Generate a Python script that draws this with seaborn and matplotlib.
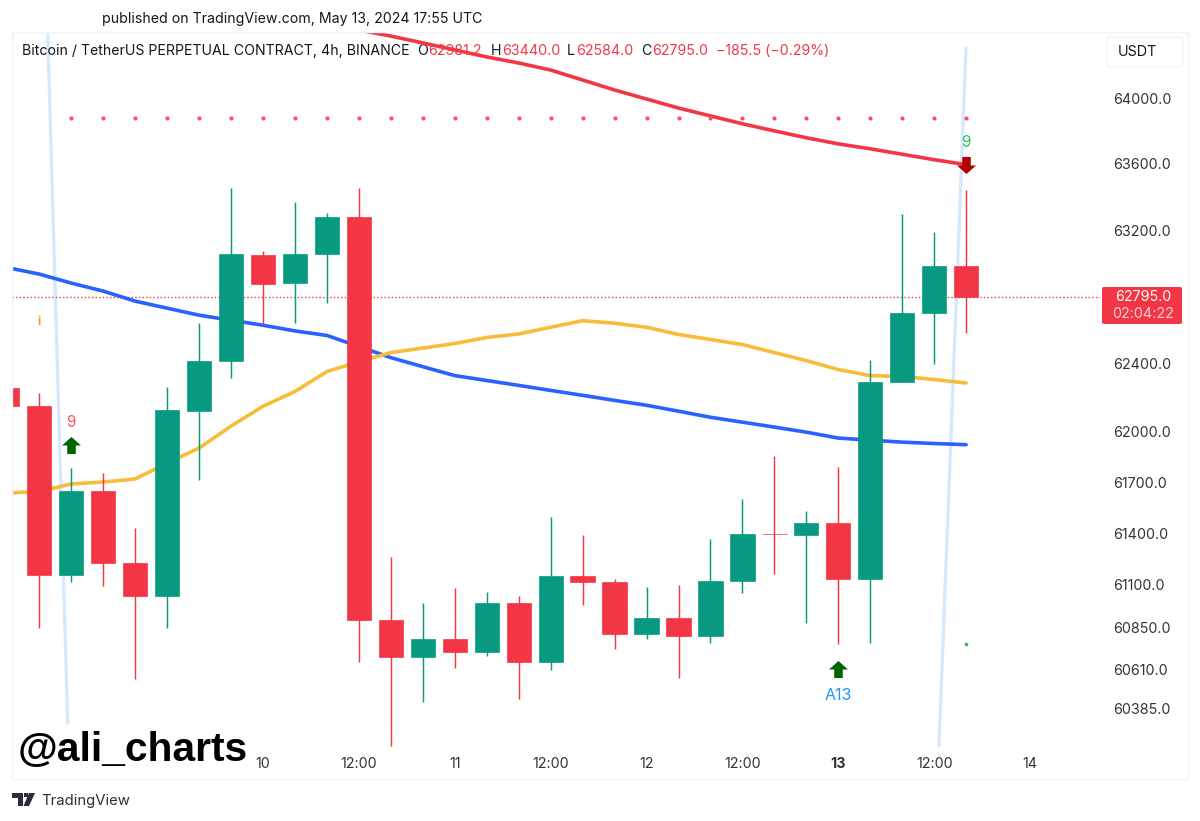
import matplotlib
matplotlib.use("Agg")
import matplotlib.pyplot as plt
import seaborn as sns
from matplotlib.patches import FancyBboxPatch, Polygon, Rectangle
from matplotlib.ticker import NullLocator
from matplotlib.transforms import Affine2D

# candles, 4h
candle_idx = list(range(31))
opens = [62253, 62147, 61156, 61647, 61223, 61034, 62121, 62418, 63050, 62881, 63056,
         63279, 60895, 60680, 60784, 60709, 60993, 60653, 61150, 61115, 60813,
         60906, 60804, 61123, 61398, 61391, 61459, 61133, 62294, 62701, 62981.2]
highs = [62253, 62224, 61783, 61753, 61429, 62259, 62641, 63454, 63074, 63369, 63303,
         63454, 61261, 60993, 61082, 61059, 61034, 61494, 61388, 61133, 61086,
         61100, 61365, 61600, 61853, 61530, 61790, 62424, 63297, 63188, 63440]
lows = [62147, 60848, 61115, 61092, 60552, 60848, 61712, 62312, 62635, 62641, 62760,
        60650, 60168, 60418, 60617, 60685, 60436, 60604, 60982, 60726, 60784,
        60559, 60760, 61053, 61161, 60877, 60755, 60760, 62294, 62400, 62584]
closes = [62147, 61156, 61647, 61223, 61034, 62124, 62418, 63056, 62878, 63056, 63279,
          60895, 60680, 60784, 60709, 60993, 60653, 61150, 61115, 60813, 60906,
          60804, 61123, 61398, 61395, 61459, 61133, 62294, 62701, 62983, 62795]

# moving averages
ema_blue = [62974, 62935, 62881, 62833, 62773, 62731, 62689, 62659, 62629, 62595, 62568,
            62502, 62436, 62382, 62329, 62300, 62271, 62241, 62212, 62182, 62153,
            62118, 62082, 62053, 62024, 61994, 61959, 61947, 61935, 61927, 61920]
ema_yellow = [61636, 61644, 61689, 61700, 61718, 61812, 61900, 62030, 62147, 62235, 62353,
              62412, 62466, 62493, 62520, 62556, 62577, 62617, 62656, 62641, 62617,
              62574, 62544, 62514, 62466, 62418, 62365, 62329, 62324, 62306, 62285]
ema_red_idx = list(range(11, 31))
ema_red = [64416, 64379, 64337, 64294, 64251, 64214, 64171, 64110, 64049, 63994,
           63939, 63891, 63843, 63800, 63758, 63721, 63691, 63658, 63625, 63595]

# markers and drawn lines
dot_idx = list(range(2, 31))
dot_levels = [63878] * 29
low_dot_idx = [30]
low_dot_level = [60755]
up_arrow_idx = [2, 26]
up_arrow_level = [61918, 60612]
down_arrow_idx = [30]
down_arrow_level = [63592]
light_line_a_idx = [1.263, 1.889]
light_line_a = [64404, 60298]
light_line_b_idx = [29.996, 29.15]
light_line_b = [64306, 60168]
last_price = 62795

y_ticks = [64000, 63600, 63200, 62400, 62000, 61700, 61400, 61100, 60850, 60610, 60385]
x_ticks = [8, 11, 14, 17, 20, 23, 26, 29, 32]
x_labels = ["10", "12:00", "11", "12:00", "12", "12:00", "13", "12:00", "14"]

GREEN = "#089981"
RED = "#f23645"
TEXT = "#131722"

sns.set_theme(style="white")
plt.rcParams["font.family"] = ["Inter", "DejaVu Sans"]

fig = plt.figure(figsize=(12, 8.21), dpi=100)
ax = fig.add_axes([12 / 1200, 1 - 748 / 821, 1088 / 1200, 716 / 821])
ax.set_yscale("log")
ax.set_facecolor("none")

# pixel coords, top-left origin, for the screenshot furniture
px = Affine2D().scale(1, -1).translate(0, 821)

# drawn trend lines sit behind everything
sns.lineplot(x=light_line_a_idx, y=light_line_a, color="#d6e8fb", lw=2.4, ax=ax, zorder=0.5,
             estimator=None, sort=False)
sns.lineplot(x=light_line_b_idx, y=light_line_b, color="#d6e8fb", lw=2.4, ax=ax, zorder=0.5,
             estimator=None, sort=False)

# moving averages
sns.lineplot(x=candle_idx, y=ema_blue, color="#2962ff", lw=2.6, ax=ax, zorder=2, estimator=None)
sns.lineplot(x=candle_idx, y=ema_yellow, color="#f7bd3a", lw=2.6, ax=ax, zorder=2, estimator=None)
sns.lineplot(x=ema_red_idx, y=ema_red, color=RED, lw=2.6, ax=ax, zorder=2, estimator=None)

# candles
colors = [GREEN if c >= o else RED for o, c in zip(opens, closes)]
ax.vlines(candle_idx, lows, highs, colors=colors, lw=1.05, zorder=3)
ax.bar(candle_idx, [abs(c - o) for o, c in zip(opens, closes)],
       bottom=[min(o, c) for o, c in zip(opens, closes)],
       width=0.76, color=colors, edgecolor=colors, lw=0.5, zorder=4)

# last price line
ax.axhline(last_price, color=RED, lw=1.0, ls=(0, (1, 1.6)), zorder=1.5)

# dots
sns.scatterplot(x=dot_idx, y=dot_levels, color="#f7525f", s=9, linewidth=0, ax=ax, zorder=2.5)
sns.scatterplot(x=low_dot_idx, y=low_dot_level, color="#4caf50", s=7, linewidth=0, ax=ax, zorder=2.5)

# signal arrows
arrow_up = [(-1, 0), (0, 0.9), (1, 0), (0.45, 0), (0.45, -0.9), (-0.45, -0.9), (-0.45, 0)]
arrow_down = [(x, -y) for x, y in arrow_up]
sns.scatterplot(x=up_arrow_idx, y=up_arrow_level, color="#006400", marker=arrow_up, s=187,
                linewidth=0, ax=ax, zorder=5)
sns.scatterplot(x=down_arrow_idx, y=down_arrow_level, color="#b00000", marker=arrow_down, s=187,
                linewidth=0, ax=ax, zorder=5)
ax.text(2, 62053, "9", color="#f7525f", fontsize=11, ha="center", va="center")
ax.text(26, 60458, "A13", color="#2196f3", fontsize=11.5, ha="center", va="center")
ax.text(30, 63727, "9", color="#22c55e", fontsize=11, ha="center", va="center")
ax.text(1.0, 62647, "i", color="#f59a10", fontsize=8.5, fontweight="bold", ha="center", va="center")

# axes
ax.set_xlim((12 - 7.34) / 31.96, (1100 - 7.34) / 31.96)
ax.set_ylim(60155.7, 64404)
ax.yaxis.set_minor_locator(NullLocator())
ax.yaxis.tick_right()
ax.set_yticks(y_ticks)
ax.set_yticklabels([f"{v:.1f}" for v in y_ticks])
ax.set_xticks(x_ticks)
ax.set_xticklabels(x_labels)
ax.get_xticklabels()[6].set_fontweight("bold")
ax.tick_params(axis="y", length=0, pad=9.4, labelsize=10.3, labelcolor="#333333")
ax.tick_params(axis="x", length=0, pad=6.5, labelsize=10.3, labelcolor="#333333")
ax.set_xlabel("")
ax.set_ylabel("")
sns.despine(ax=ax, left=True, bottom=True, top=True, right=True)

# legend strip, under the moving averages
ax.text(22, 51, "Bitcoin / TetherUS PERPETUAL CONTRACT, 4h, BINANCE", transform=px,
        color=TEXT, fontsize=10.2, va="center", zorder=1)
for x_pos, letter, x_val, value in [(417, "O", 428, "62981.2"), (491, "H", 502, "63440.0"),
                                    (567, "L", 576, "62584.0"), (641, "C", 652, "62795.0")]:
    ax.text(x_pos, 51, letter, transform=px, color=TEXT, fontsize=10.2, va="center", zorder=1)
    ax.text(x_val, 51, value, transform=px, color=RED, fontsize=10.2, va="center", zorder=1)
ax.text(716, 51, "\u2212185.5 (\u22120.29%)", transform=px, color=RED, fontsize=10.2, va="center", zorder=1)

# header, footer, watermark
ax.text(102, 19, "published on TradingView.com, May 13, 2024 17:55 UTC", transform=px,
        color=TEXT, fontsize=10.2, va="center")
ax.text(41, 801, "TradingView", transform=px, color="#2a2e39", fontsize=10.7, va="center")
ax.text(18, 761, "@ali_charts", transform=px, color="black", fontsize=29.3, fontweight="bold",
        family="Liberation Sans", va="baseline", zorder=6)

# outer frame
fig.add_artist(Rectangle((12, 32), 1176, 747, transform=px, fill=False, edgecolor="#f0f3fa", lw=1))

# USDT button
fig.add_artist(FancyBboxPatch((1110, 40), 70, 24, boxstyle="round,pad=3,rounding_size=4", transform=px,
                              facecolor="white", edgecolor="#f0f3fa", lw=1))
fig.text(1118, 52, "USDT", transform=px, color=TEXT, fontsize=10.3, va="center")

# price label
fig.add_artist(FancyBboxPatch((1103, 288), 78, 35, boxstyle="round,pad=1,rounding_size=2", transform=px,
                              facecolor=RED, edgecolor=RED, lw=0))
fig.text(1143, 297, "62795.0", transform=px, color="white", fontsize=10.3, ha="center", va="center")
fig.text(1143, 314, "02:04:22", transform=px, color="#fbd0d5", fontsize=10.3, ha="center", va="center")

# TradingView logo
logo_color = "#2a2e39"
fig.add_artist(Polygon([(12, 793), (23, 793), (23, 806), (18, 806), (18, 798), (12, 798)], transform=px,
                       color=logo_color, lw=0))
fig.add_artist(Polygon([(29, 793), (35, 793), (29, 806), (23.5, 806)], transform=px, color=logo_color, lw=0))
fig.add_artist(Rectangle((23.5, 793), 4, 4, transform=px, color=logo_color, lw=0))

fig.savefig("out.png", dpi=100)
